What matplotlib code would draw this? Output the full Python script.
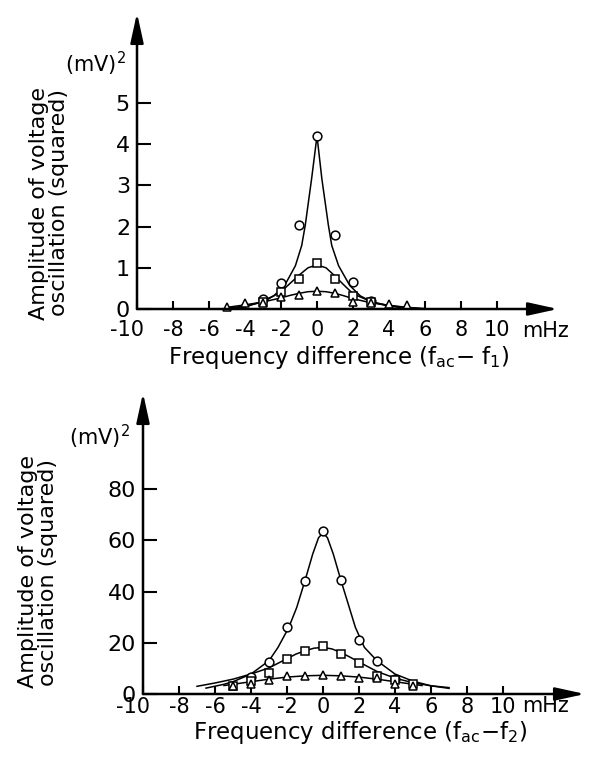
import matplotlib
matplotlib.use("Agg")
import matplotlib.pyplot as plt
from matplotlib.transforms import ScaledTranslation

# ---- data (frequency difference in mHz, amplitude in mV^2) ----
x_ticks = [-10, -8, -6, -4, -2, 0, 2, 4, 6, 8, 10]
x_tick_labels = ["-10", "-8", "-6", "-4", "-2", "0", "2", "4", "6", "8", "10"]

top_y_ticks = [0, 1, 2, 3, 4, 5]
bot_y_ticks = [0, 20, 40, 60, 80]

# upper panel (f1) measured points
top_circle_x = [-3, -2, -1, 0, 1, 2, 3]
top_circle_y = [0.24, 0.62, 2.04, 4.19, 1.80, 0.65, 0.20]
top_square_x = [-3, -2, -1, 0, 1, 2, 3]
top_square_y = [0.17, 0.41, 0.74, 1.11, 0.73, 0.32, 0.18]
top_triangle_x = [-5, -4, -3, -2, -1, 0, 1, 2, 3, 4, 5]
top_triangle_y = [0.04, 0.15, 0.15, 0.28, 0.34, 0.44, 0.40, 0.18, 0.15, 0.12, 0.10]

# upper panel fitted curves (traced)
top_circle_curve_x = [-5, -4, -3.2, -2.4, -1.8, -1.2, -0.85, -0.65, -0.3, 0,
                      0.27, 0.63, 0.82, 1.2, 1.82, 2.4, 3.1, 4, 5, 6]
top_circle_curve_y = [0.0, 0.05, 0.16, 0.32, 0.57, 1.05, 1.54, 2.04, 3.16, 4.2,
                      3.16, 2.04, 1.54, 1.05, 0.57, 0.32, 0.16, 0.07, 0.02, 0.0]
top_curve_x = [-5, -4, -3, -2, -1.5, -1, -0.5, 0, 0.5, 1, 1.5, 2, 3, 4, 5, 6]
top_square_curve_y = [0.02, 0.07, 0.17, 0.42, 0.62, 0.82, 1.0, 1.07, 1.0, 0.8,
                      0.58, 0.37, 0.18, 0.08, 0.03, 0.0]
top_triangle_curve_y = [0.04, 0.1, 0.17, 0.27, 0.33, 0.38, 0.42, 0.43, 0.42, 0.38,
                        0.32, 0.25, 0.15, 0.09, 0.04, 0.01]

# lower panel (f2) measured points
bot_circle_x = [-4, -3, -2, -1, 0, 1, 2, 3, 4]
bot_circle_y = [6.5, 12.5, 26.3, 44.0, 63.5, 44.5, 21.2, 12.9, 6.0]
bot_square_x = [-5, -4, -3, -2, -1, 0, 1, 2, 3, 4, 5]
bot_square_y = [3.2, 5.2, 8.3, 13.8, 16.9, 18.6, 15.6, 12.2, 7.2, 5.5, 3.9]
bot_triangle_x = [-5, -4, -3, -2, -1, 0, 1, 2, 3, 4, 5]
bot_triangle_y = [3.2, 4.0, 5.3, 7.0, 7.2, 7.3, 7.0, 6.4, 6.2, 3.9, 3.2]

# lower panel fitted curves (traced)
bot_circle_curve_x = [-6.5, -5.5, -5, -4, -3, -2.5, -1.9, -1.46, -1, -0.57, -0.25, 0,
                      0.25, 0.57, 1, 1.46, 1.8, 2.3, 3, 4, 5, 6, 7]
bot_circle_curve_y = [2.3, 3.8, 4.8, 7.8, 13, 18.2, 26, 33.8, 44.3, 54.7, 61, 63,
                      61, 54.7, 44.3, 33.8, 26, 18.2, 13, 7.8, 5, 3.2, 2.2]
bot_square_curve_x = [-7, -6, -5, -4, -3, -2, -1.5, -1, -0.5, 0, 0.5, 1, 1.5, 2,
                      3, 4, 5, 6, 7]
bot_square_curve_y = [3.0, 4.3, 5.8, 7.8, 10.2, 13.8, 15.6, 16.9, 17.9, 18.2, 17.6,
                      16.2, 14.4, 12.5, 8.8, 6.2, 4.4, 3.2, 2.5]
bot_triangle_curve_x = [-5.5, -5, -4, -3, -2, -1, 0, 1, 2, 3, 4, 5, 5.5]
bot_triangle_curve_y = [3.3, 3.8, 4.8, 5.8, 6.6, 7.1, 7.3, 7.1, 6.6, 5.8, 4.8, 3.8, 3.3]

W, H = 591, 761
plt.rcParams["font.family"] = ["DejaVu Sans"]


def fig_text(px, py, s, **kw):
    """Place text using pixel coordinates measured from the top-left corner."""
    return fig.text(px / W, 1 - py / H, s, **kw)


def setup_axes(ax, xmax, ymax, yticks, xpad, xlabel, ylab_xy, mv_xy, xlab_xy, mhz_xy):
    ax.set_xlim(-10, xmax)
    ax.set_ylim(0, ymax)
    for s in ax.spines.values():
        s.set_visible(False)
    arrow = dict(arrowstyle="-|>,head_length=1.0,head_width=0.22",
                 color="black", lw=1.8, mutation_scale=18, shrinkA=0, shrinkB=0)
    ax.annotate("", xy=(xmax, 0), xytext=(-10, 0), arrowprops=arrow)
    ax.annotate("", xy=(-10, ymax), xytext=(-10, 0), arrowprops=arrow)

    ax.set_xticks(x_ticks)
    ax.set_xticklabels(x_tick_labels, fontsize=15)
    ax.set_yticks(yticks)
    ax.set_yticklabels([str(t) for t in yticks], fontsize=16)
    ax.tick_params(axis="x", direction="in", length=6, width=1.5, pad=xpad)
    ax.tick_params(axis="y", direction="in", length=10, width=1.5, pad=5)
    # the "-10" label sits a little left of the y axis in the original
    first = ax.get_xticklabels()[0]
    first.set_transform(first.get_transform()
                        + ScaledTranslation(-10 / 100, 0, fig.dpi_scale_trans))

    fig_text(mhz_xy[0], mhz_xy[1], "mHz", fontsize=15, ha="left", va="center")
    fig_text(xlab_xy[0], xlab_xy[1], xlabel, fontsize=16.5, ha="center", va="center")
    fig_text(ylab_xy[0], ylab_xy[1], "Amplitude of voltage\noscillation (squared)",
             fontsize=16, rotation=90, ha="center", va="center", linespacing=1.05,
             multialignment="center")
    fig_text(mv_xy[0], mv_xy[1], r"(mV)$^2$", fontsize=15, ha="right", va="center")


def draw_series(ax, pts, curves):
    for cx, cy in curves:
        ax.plot(cx, cy, color="black", lw=1.1)
    for px, py, m in pts:
        ax.plot(px, py, linestyle="none", marker=m, markersize=6.3,
                markerfacecolor="white", markeredgecolor="black",
                markeredgewidth=1.1, clip_on=False)


fig = plt.figure(figsize=(W / 100, H / 100), dpi=100)

# upper panel
ax1 = fig.add_axes([137 / W, 1 - 309 / H, (558 - 137) / W, (309 - 13) / H])
setup_axes(ax1, -10 + (558 - 137) / 18, (309 - 13) / 41.2, top_y_ticks, 8,
           r"Frequency difference (f$_{\mathrm{ac}}$$-$ f$_1$)",
           (49, 203), (126, 64), (339, 357), (522, 331))
draw_series(ax1,
            [(top_circle_x, top_circle_y, "o"),
             (top_square_x, top_square_y, "s"),
             (top_triangle_x, top_triangle_y, "^")],
            [(top_circle_curve_x, top_circle_curve_y),
             (top_curve_x, top_square_curve_y),
             (top_curve_x, top_triangle_curve_y)])

# lower panel
ax2 = fig.add_axes([143 / W, 1 - 694 / H, (585 - 143) / W, (694 - 393) / H])
setup_axes(ax2, -10 + (585 - 143) / 18, (694 - 393) / 2.56, bot_y_ticks, 2.5,
           r"Frequency difference (f$_{\mathrm{ac}}$$-$f$_2$)",
           (38, 572), (130, 437), (360, 733), (522, 706))
draw_series(ax2,
            [(bot_circle_x, bot_circle_y, "o"),
             (bot_square_x, bot_square_y, "s"),
             (bot_triangle_x, bot_triangle_y, "^")],
            [(bot_circle_curve_x, bot_circle_curve_y),
             (bot_square_curve_x, bot_square_curve_y),
             (bot_triangle_curve_x, bot_triangle_curve_y)])

fig.savefig("out.png", dpi=100, facecolor="white")
